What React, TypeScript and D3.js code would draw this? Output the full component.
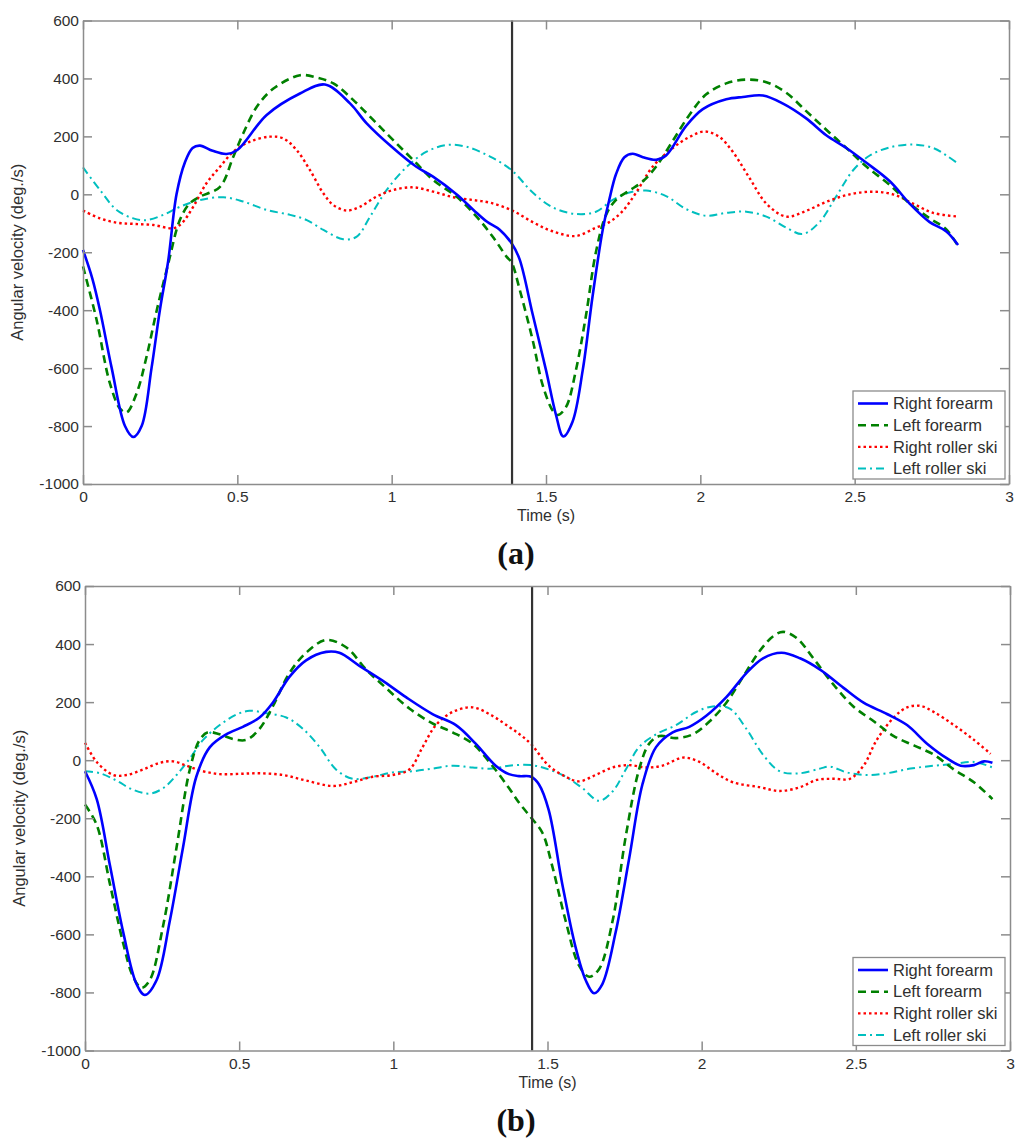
import * as d3 from "d3";
import { useEffect, useRef } from "react";

// ---- data ----
const xTicks = [0, 0.5, 1, 1.5, 2, 2.5, 3];
const yTicks = [-1000, -800, -600, -400, -200, 0, 200, 400, 600];
const seriesNames = ["Right forearm", "Left forearm", "Right roller ski", "Left roller ski"];
const panelLabels = ["(a)", "(b)"];
const markerTimes = [1.39, 1.45];

// panel (a)
const aRightForearm: [number, number][] = [
  [0, -192], [0.03, -290], [0.055, -400], [0.093, -600], [0.136, -800], [0.163, -838], [0.19, -800],
  [0.222, -600], [0.249, -400], [0.276, -230], [0.303, 0], [0.33, 110], [0.355, 160],
  [0.379, 168], [0.42, 150], [0.465, 139], [0.5, 153], [0.595, 274], [0.703, 348],
  [0.784, 379], [0.865, 314], [0.919, 245], [1.0, 164], [1.08, 95], [1.134, 61],
  [1.21, 0], [1.265, -54], [1.308, -94], [1.35, -122], [1.389, -170], [1.414, -223],
  [1.457, -415], [1.5, -607], [1.532, -760], [1.556, -836], [1.586, -785], [1.619, -607],
  [1.651, -351], [1.684, -121], [1.705, -19], [1.727, 70], [1.754, 128], [1.781, 140],
  [1.814, 128], [1.857, 119], [1.889, 134], [1.954, 236], [2.008, 294], [2.084, 328],
  [2.138, 336], [2.203, 341], [2.268, 313], [2.343, 262], [2.408, 204], [2.473, 160],
  [2.538, 109], [2.614, 45], [2.678, -32], [2.743, -96], [2.797, -128], [2.835, -175],
];
const aLeftForearm: [number, number][] = [
  [0, -249], [0.044, -433], [0.087, -652], [0.12, -740], [0.141, -753], [0.174, -686],
  [0.206, -560], [0.239, -400], [0.276, -240], [0.314, -88], [0.346, -31], [0.379, -8],
  [0.444, 26], [0.487, 130], [0.519, 210], [0.563, 302], [0.617, 365], [0.703, 411],
  [0.757, 403], [0.811, 383], [0.876, 325], [0.941, 256], [1.005, 187], [1.07, 118],
  [1.135, 49], [1.21, -8], [1.275, -77], [1.33, -150], [1.372, -215], [1.389, -236],
  [1.414, -326], [1.457, -504], [1.489, -658], [1.522, -747], [1.538, -762], [1.565, -734],
  [1.597, -607], [1.63, -415], [1.662, -198], [1.695, -70], [1.727, -19], [1.77, 13],
  [1.814, 45], [1.857, 96], [1.911, 185], [1.965, 275], [2.019, 345], [2.084, 383],
  [2.149, 396], [2.214, 387], [2.278, 351], [2.343, 287], [2.408, 223], [2.473, 160],
  [2.538, 96], [2.614, 32], [2.678, -32], [2.743, -83], [2.797, -121], [2.835, -179],
];
const aRightSki: [number, number][] = [
  [0, -56], [0.055, -83], [0.109, -98], [0.163, -102], [0.228, -106], [0.293, -117],
  [0.32, -100], [0.357, -43], [0.4, 38], [0.444, 95], [0.487, 147], [0.541, 182],
  [0.606, 199], [0.649, 193], [0.692, 153], [0.735, 84], [0.779, 3], [0.811, -37],
  [0.854, -56], [0.897, -43], [0.951, -8], [1.005, 15], [1.07, 24], [1.135, 9],
  [1.2, -10], [1.265, -20], [1.319, -29], [1.389, -55], [1.457, -96], [1.522, -128],
  [1.597, -144], [1.662, -115], [1.705, -96], [1.749, -57], [1.792, 6], [1.846, 96],
  [1.911, 160], [1.965, 198], [2.014, 217], [2.062, 198], [2.105, 147], [2.159, 57],
  [2.214, -32], [2.278, -77], [2.343, -57], [2.408, -26], [2.484, 0], [2.559, 9],
  [2.624, 0], [2.689, -32], [2.754, -64], [2.835, -77],
];
const aLeftSki: [number, number][] = [
  [0, 93], [0.055, 15], [0.109, -54], [0.163, -83], [0.206, -89], [0.26, -71],
  [0.314, -43], [0.379, -20], [0.455, -10], [0.519, -25], [0.595, -54], [0.671, -71],
  [0.725, -89], [0.779, -123], [0.843, -155], [0.887, -146], [0.93, -77], [0.984, 15],
  [1.049, 95], [1.113, 147], [1.178, 170], [1.243, 164], [1.319, 130], [1.389, 83],
  [1.457, 6], [1.522, -45], [1.597, -68], [1.662, -60], [1.716, -19], [1.77, 6],
  [1.824, 13], [1.889, -6], [1.954, -51], [2.019, -74], [2.084, -64], [2.149, -60],
  [2.214, -77], [2.278, -115], [2.332, -137], [2.386, -96], [2.441, -6], [2.495, 83],
  [2.549, 134], [2.614, 162], [2.689, 172], [2.754, 160], [2.797, 134], [2.835, 106],
];

// panel (b)
const bRightForearm: [number, number][] = [
  [0, -38], [0.038, -134], [0.081, -363], [0.124, -593], [0.167, -771], [0.194, -809],
  [0.232, -758], [0.275, -554], [0.318, -300], [0.361, -57], [0.405, 45], [0.458, 89],
  [0.512, 115], [0.566, 147], [0.609, 198], [0.663, 287], [0.717, 344], [0.782, 373],
  [0.825, 370], [0.89, 325], [0.965, 274], [1.041, 217], [1.127, 159], [1.203, 121],
  [1.267, 57], [1.332, -19], [1.375, -48], [1.408, -55], [1.447, -57], [1.472, -83],
  [1.504, -172], [1.548, -427], [1.591, -644], [1.624, -758], [1.651, -803], [1.678, -771],
  [1.721, -593], [1.765, -338], [1.808, -83], [1.852, 45], [1.906, 96], [1.96, 115],
  [2.015, 153], [2.08, 217], [2.145, 300], [2.199, 351], [2.259, 370], [2.319, 351],
  [2.384, 312], [2.46, 249], [2.525, 198], [2.601, 159], [2.666, 121], [2.731, 57],
  [2.796, 6], [2.84, -19], [2.883, -17], [2.916, -4], [2.943, -9],
];
const bLeftForearm: [number, number][] = [
  [0, -153], [0.038, -223], [0.081, -427], [0.124, -631], [0.156, -746], [0.183, -784],
  [0.21, -758], [0.254, -567], [0.297, -300], [0.34, -32], [0.372, 70], [0.399, 96],
  [0.437, 89], [0.48, 73], [0.523, 70], [0.566, 108], [0.609, 185], [0.663, 300],
  [0.717, 370], [0.782, 414], [0.847, 389], [0.912, 312], [0.976, 249], [1.052, 178],
  [1.127, 127], [1.192, 96], [1.257, 57], [1.321, -19], [1.375, -96], [1.41, -150],
  [1.447, -198], [1.483, -249], [1.515, -363], [1.559, -554], [1.602, -707], [1.635, -746],
  [1.667, -720], [1.711, -554], [1.754, -261], [1.797, -32], [1.83, 57], [1.863, 83],
  [1.917, 76], [1.971, 89], [2.026, 134], [2.08, 198], [2.134, 287], [2.188, 376],
  [2.232, 427], [2.264, 442], [2.308, 421], [2.362, 351], [2.427, 261], [2.492, 185],
  [2.558, 134], [2.623, 83], [2.688, 51], [2.753, 19], [2.818, -32], [2.883, -76],
  [2.943, -134],
];
const bRightSki: [number, number][] = [
  [0, 60], [0.038, -6], [0.092, -51], [0.135, -51], [0.189, -32], [0.243, -9],
  [0.286, -4], [0.329, -19], [0.383, -38], [0.437, -48], [0.502, -47], [0.566, -45],
  [0.642, -51], [0.717, -70], [0.804, -89], [0.868, -76], [0.933, -57], [0.998, -51],
  [1.052, -32], [1.095, 45], [1.138, 121], [1.192, 166], [1.257, 182], [1.321, 153],
  [1.375, 115], [1.41, 89], [1.447, 55], [1.504, -19], [1.559, -57], [1.602, -73],
  [1.656, -51], [1.711, -25], [1.765, -17], [1.819, -25], [1.873, -19], [1.939, 9],
  [1.993, -6], [2.047, -45], [2.101, -76], [2.188, -93], [2.253, -106], [2.319, -93],
  [2.373, -68], [2.427, -64], [2.481, -64], [2.525, -19], [2.568, 70], [2.623, 147],
  [2.666, 182], [2.709, 187], [2.753, 166], [2.818, 121], [2.883, 70], [2.937, 22],
];
const bLeftSki: [number, number][] = [
  [0, -38], [0.049, -45], [0.102, -70], [0.156, -102], [0.21, -115], [0.254, -96],
  [0.297, -51], [0.34, 6], [0.383, 70], [0.437, 121], [0.491, 157], [0.534, 170],
  [0.588, 162], [0.653, 147], [0.707, 108], [0.761, 45], [0.814, -32], [0.868, -64],
  [0.933, -57], [0.998, -42], [1.063, -38], [1.127, -29], [1.192, -19], [1.257, -25],
  [1.321, -29], [1.375, -19], [1.447, -17], [1.504, -32], [1.559, -57], [1.613, -96],
  [1.667, -140], [1.711, -108], [1.754, -32], [1.797, 45], [1.852, 89], [1.917, 121],
  [1.982, 166], [2.036, 185], [2.091, 178], [2.145, 108], [2.199, 19], [2.253, -38],
  [2.319, -45], [2.384, -29], [2.416, -22], [2.47, -42], [2.536, -51], [2.601, -45],
  [2.677, -29], [2.753, -19], [2.818, -13], [2.883, -6], [2.943, -25],
];

const lineStyles = [
  { color: "#0000ff", width: 2.6, dash: null as string | null },
  { color: "#008000", width: 2.6, dash: "8,5" },
  { color: "#ff0000", width: 2.4, dash: "2.5,3" },
  { color: "#00bfbf", width: 2, dash: "8,4,2,4" },
];

const panels = [
  {
    label: panelLabels[0],
    marker: markerTimes[0],
    series: [aRightForearm, aLeftForearm, aRightSki, aLeftSki],
    box: { left: 83, right: 1009, top: 20.5, bottom: 484 },
  },
  {
    label: panelLabels[1],
    marker: markerTimes[1],
    series: [bRightForearm, bLeftForearm, bRightSki, bLeftSki],
    box: { left: 85, right: 1010, top: 586, bottom: 1050.5 },
  },
];

const FONT = "Liberation Sans, Arial, sans-serif";

export default function App() {
  const ref = useRef<SVGSVGElement | null>(null);

  useEffect(() => {
    if (!ref.current) return;
    const svg = d3.select(ref.current);
    svg.selectAll("*").remove();

    panels.forEach((p) => {
      const { left, right, top, bottom } = p.box;
      const x = d3.scaleLinear().domain([0, 3]).range([left, right]);
      const y = d3.scaleLinear().domain([-1000, 600]).range([bottom, top]);
      const g = svg.append("g");

      const line = d3
        .line<[number, number]>()
        .x((d) => x(d[0]))
        .y((d) => y(d[1]))
        .curve(d3.curveCatmullRom.alpha(0.5));

      // roller skis first, forearms on top
      [3, 2, 1, 0].forEach((i) => {
        const st = lineStyles[i];
        g.append("path")
          .attr("d", line(p.series[i]))
          .attr("fill", "none")
          .attr("stroke", st.color)
          .attr("stroke-width", st.width)
          .attr("stroke-dasharray", st.dash)
          .attr("stroke-linejoin", "round");
      });

      // marker line
      g.append("line")
        .attr("x1", x(p.marker))
        .attr("x2", x(p.marker))
        .attr("y1", top)
        .attr("y2", bottom)
        .attr("stroke", "#333")
        .attr("stroke-width", 2.2);

      const axisColor = "#8c8c8c";
      const styleAxis = (sel: d3.Selection<SVGGElement, unknown, null, undefined>) => {
        sel.select(".domain").attr("stroke", axisColor).attr("stroke-width", 1.5);
        sel.selectAll(".tick line").attr("stroke", axisColor).attr("stroke-width", 1.5);
        sel
          .selectAll(".tick text")
          .attr("fill", "#303030")
          .attr("font-family", FONT)
          .attr("font-size", 15.5);
      };

      const fmt = (d: d3.NumberValue) => String(+d);
      const bottomAxis = g
        .append("g")
        .attr("transform", `translate(0,${bottom})`)
        .call(d3.axisBottom(x).tickValues(xTicks).tickSizeInner(-9).tickSizeOuter(0).tickPadding(7).tickFormat(fmt));
      styleAxis(bottomAxis);
      const topAxis = g
        .append("g")
        .attr("transform", `translate(0,${top})`)
        .call(d3.axisTop(x).tickValues(xTicks).tickSizeInner(-9).tickSizeOuter(0).tickFormat(() => ""));
      styleAxis(topAxis);
      const leftAxis = g
        .append("g")
        .attr("transform", `translate(${left},0)`)
        .call(d3.axisLeft(y).tickValues(yTicks).tickSizeInner(-9).tickSizeOuter(0).tickPadding(4).tickFormat(fmt));
      styleAxis(leftAxis);
      const rightAxis = g
        .append("g")
        .attr("transform", `translate(${right},0)`)
        .call(d3.axisRight(y).tickValues(yTicks).tickSizeInner(-9).tickSizeOuter(0).tickFormat(() => ""));
      styleAxis(rightAxis);

      // axis titles
      g.append("text")
        .attr("x", x(1.5))
        .attr("y", bottom + 37)
        .attr("text-anchor", "middle")
        .attr("font-family", FONT)
        .attr("font-size", 16)
        .attr("fill", "#303030")
        .text("Time (s)");
      g.append("text")
        .attr("transform", `translate(${left - 60},${(top + bottom) / 2}) rotate(-90)`)
        .attr("text-anchor", "middle")
        .attr("font-family", FONT)
        .attr("font-size", 16.5)
        .attr("fill", "#303030")
        .text("Angular velocity (deg./s)");

      // panel label
      g.append("text")
        .attr("x", 516)
        .attr("y", bottom + 80)
        .attr("text-anchor", "middle")
        .attr("font-family", "Liberation Serif, DejaVu Serif, serif")
        .attr("font-weight", "bold")
        .attr("font-size", 32)
        .attr("fill", "#111")
        .text(p.label);

      // legend
      const lg = g.append("g").attr("transform", `translate(853,${bottom - 93})`);
      lg.append("rect")
        .attr("width", 152)
        .attr("height", 88)
        .attr("fill", "#fff")
        .attr("stroke", "#8c8c8c")
        .attr("stroke-width", 1.3);
      seriesNames.forEach((name, i) => {
        const st = lineStyles[i];
        const cy = 12.5 + i * 21.7;
        lg.append("line")
          .attr("x1", 5)
          .attr("x2", 35)
          .attr("y1", cy)
          .attr("y2", cy)
          .attr("stroke", st.color)
          .attr("stroke-width", st.width)
          .attr("stroke-dasharray", st.dash);
        lg.append("text")
          .attr("x", 40)
          .attr("y", cy)
          .attr("dy", "0.35em")
          .attr("font-family", FONT)
          .attr("font-size", 16.5)
          .attr("fill", "#303030")
          .text(name);
      });
    });
  }, []);

  return (
    <div style={{ position: "absolute", left: 0, top: 0 }}>
      <svg ref={ref} width={1024} height={1148} style={{ display: "block", background: "#fff" }}></svg>
    </div>
  );
}
